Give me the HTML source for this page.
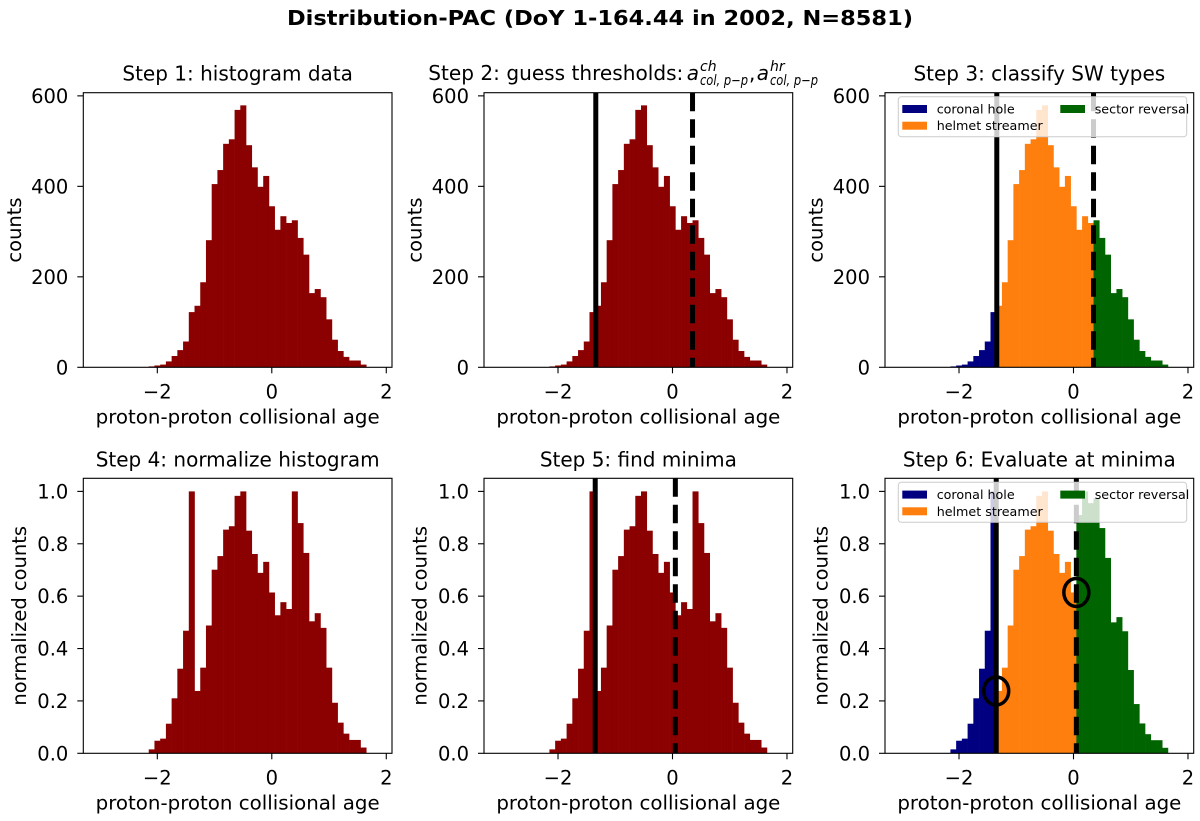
<!DOCTYPE html>
<html><head><meta charset="utf-8"><style>
html,body{margin:0;padding:0;background:#fff}
svg{display:block}
text{font-family:"DejaVu Sans","Liberation Sans",sans-serif;fill:#000}
</style></head><body>
<svg id="fig" width="1200" height="821" viewBox="0 0 1200 821" xmlns="http://www.w3.org/2000/svg">
<text x="600" y="25" text-anchor="middle" font-size="20" font-weight="bold" textLength="626" lengthAdjust="spacingAndGlyphs">Distribution-PAC (DoY 1-164.44 in 2002, N=8581)</text>
<g id="panels"></g>
</svg>
<script>
// ---- data ----
const binStart = -2.15;
const binWidth = 0.1;
const counts = [2,4,6,13,25,38,57,122,136,188,281,405,436,494,504,569,579,491,442,399,423,356,304,334,319,325,286,249,164,173,155,106,61,36,23,15,15,6];
const norm4 = [0.015,0.048,0.056,0.113,0.21,0.323,0.468,1.0,0.238,0.327,0.488,0.701,0.753,0.854,0.867,0.983,1.0,0.85,0.761,0.689,0.731,0.614,0.527,0.577,0.551,1.0,0.879,0.765,0.504,0.535,0.479,0.327,0.193,0.117,0.075,0.051,0.051,0.022];
const norm6 = [0.015,0.048,0.056,0.113,0.21,0.323,0.468,1.0,0.238,0.327,0.488,0.701,0.753,0.854,0.867,0.983,1.0,0.85,0.761,0.689,0.731,0.614,0.91,1.0,0.955,0.973,0.86,0.746,0.50,0.52,0.466,0.318,0.188,0.114,0.073,0.05,0.05,0.021];
const thr2 = [-1.34, 0.35];
const thr5 = [-1.35, 0.05];
const minima6 = [[-1.35, 0.238],[0.05, 0.614]];
const countTicks = [0,200,400,600];
const countTickLabels = ["0","200","400","600"];
const normTicks = [0,0.2,0.4,0.6,0.8,1.0];
const normTickLabels = ["0.0","0.2","0.4","0.6","0.8","1.0"];
const xTicks = [-2,0,2];
const xTickLabels = ["\u22122","0","2"];
const xlim = [-3.293, 2.1];
const countMax = 607;
const normMax = 1.05;

const NS = "http://www.w3.org/2000/svg";
const root = document.getElementById('panels');
function mk(tag, attrs, parent){
  const e = document.createElementNS(NS, tag);
  for (const k in attrs) e.setAttribute(k, attrs[k]);
  (parent||root).appendChild(e);
  return e;
}
const colLeft = [83.3, 484, 885];
const axW = 308.7;
const rowTop = [92.7, 478.3];
const rowBot = [367.3, 753.3];
const C = {red:'#8b0000', blue:'#000080', orange:'#ff7f0e', green:'#006400'};
const FS = 19.5;

function panel(col,row,opts){
  const L = colLeft[col], R = L+axW, T = rowTop[row], B = rowBot[row];
  const g = mk('g',{});
  
  
  const xs = v => L + (v - xlim[0])/(xlim[1]-xlim[0])*axW;
  const ymax = opts.norm ? normMax : countMax;
  const ys = v => B - v/ymax*(B-T);
  const vals = opts.values;
  for (let i=0;i<vals.length;i++){
    const x0 = xs(binStart + i*binWidth), x1 = xs(binStart + (i+1)*binWidth);
    const r = mk('rect',{x:x0, y:ys(vals[i]), width:x1-x0+0.3, height:B-ys(vals[i]), fill:opts.color(i)}, g);
    
    
  }
  if (opts.thr){
    const l1 = mk('line',{x1:xs(opts.thr[0]),x2:xs(opts.thr[0]),y1:T,y2:B,stroke:'#000','stroke-width':5}, g);
    
    
    const l2 = mk('line',{x1:xs(opts.thr[1]),x2:xs(opts.thr[1]),y1:T,y2:B,stroke:'#000','stroke-width':5,'stroke-dasharray':'18.5 8'}, g);
    
    
  }
  if (opts.legend){
    const lg = mk('g',{}, g);
    
    
    mk('rect',{x:L+13.3, y:T+4, width:288.4, height:40, rx:3, fill:'#fff','fill-opacity':0.8, stroke:'#ccc','stroke-width':1}, lg);
    const items = [['coronal hole',C.blue,0,0],['helmet streamer',C.orange,0,1],['sector reversal',C.green,1,0]];
    for (const it of items){
      const px = L + 17.3 + it[2]*158, py = T + 12.3 + it[3]*16.7;
      const e = mk('g',{}, lg);
      
      
      mk('rect',{x:px, y:py, width:24.7, height:8, fill:it[1]}, e);
      const t = mk('text',{x:px+34.4, y:py+8.5, 'font-size':12.7}, e);
      t.textContent = it[0];
    }
  }
  if (opts.circles){
    for (const m of opts.circles){
      const c = mk('ellipse',{cx:xs(m[0]), cy:ys(m[1]), rx:12.5, ry:14, fill:'none', stroke:'#000','stroke-width':3.5}, g);
      
      
    }
  }
  const sp = mk('rect',{x:L, y:T, width:axW, height:B-T, fill:'none', stroke:'#000','stroke-width':1.1}, g);
  
  
  for (let i=0;i<xTicks.length;i++){
    const x = xs(xTicks[i]);
    mk('line',{x1:x,x2:x,y1:B,y2:B+6,stroke:'#000','stroke-width':1.1}, g);
    const t = mk('text',{x:x, y:B+31, 'font-size':FS, 'text-anchor':'middle'}, g);
    
    
    t.textContent = xTickLabels[i];
  }
  const yt = opts.norm ? normTicks : countTicks;
  const ytl = opts.norm ? normTickLabels : countTickLabels;
  for (let i=0;i<yt.length;i++){
    const y = ys(yt[i]);
    mk('line',{x1:L-6,x2:L,y1:y,y2:y,stroke:'#000','stroke-width':1.1}, g);
    const t = mk('text',{x:L-15, y:y+7, 'font-size':FS, 'text-anchor':'end'}, g);
    
    
    t.textContent = ytl[i];
  }
  const xl = mk('text',{x:L+axW/2, y:B+56, 'font-size':FS, 'text-anchor':'middle', textLength:284, lengthAdjust:'spacingAndGlyphs'}, g);
  
  
  xl.textContent = 'proton-proton collisional age';
  const yx = opts.norm ? L-63 : L-68, yy = (T+B)/2;
  const yl = mk('text',{x:yx, y:yy, 'font-size':FS, 'text-anchor':'middle', transform:`rotate(-90 ${yx} ${yy})`, 'dominant-baseline':'middle'}, g);
  
  
  yl.textContent = opts.norm ? 'normalized counts' : 'counts';
  if (opts.title){
    const tt = mk('text',{x:L+axW/2, y:T-12, 'font-size':20, 'text-anchor':'middle'}, g);
    
    
    tt.textContent = opts.title;
  } else if (opts.mathTitle){
    const tg = mk('g',{}, g);
    
    
    const by = T-12.7;
    const parts = [
      ['Step 2: guess thresholds: ',428.3,by,20,'normal',255],
      ['a',686.7,by,20,'italic',null],
      ['ch',700,by-9,14,'italic',null],
      ['col, p\u2212p',700,by+5,14,'italic',48],
      [',',749,by,20,'normal',null],
      ['a',756.7,by,20,'italic',null],
      ['hr',770,by-9,14,'italic',null],
      ['col, p\u2212p',770,by+5,14,'italic',48]
    ];
    for (const p of parts){
      const a = {x:p[1], y:p[2], 'font-size':p[3], 'font-style':p[4]};
      if (p[5]) { a.textLength = p[5]; a.lengthAdjust='spacingAndGlyphs'; }
      const t = mk('text', a, tg);
      t.textContent = p[0];
    }
  }
}
const red = () => C.red;
panel(0,0,{name:'panel-step1-histogram', values:counts, color:red, title:'Step 1: histogram data'});
panel(1,0,{name:'panel-step2-thresholds', values:counts, color:red, thr:thr2, mathTitle:true});
panel(2,0,{name:'panel-step3-classify', values:counts, thr:thr2, legend:true, title:'Step 3: classify SW types',
  color:i => { const c = binStart+(i+0.5)*binWidth; return c < thr2[0] ? C.blue : (c < thr2[1] ? C.orange : C.green); }});
panel(0,1,{name:'panel-step4-normalize', values:norm4, color:red, norm:true, title:'Step 4: normalize histogram'});
panel(1,1,{name:'panel-step5-minima', values:norm4, color:red, norm:true, thr:thr5, title:'Step 5: find minima'});
panel(2,1,{name:'panel-step6-evaluate', values:norm6, norm:true, thr:thr5, legend:true, circles:minima6, title:'Step 6: Evaluate at minima',
  color:i => { const c = binStart+(i+0.5)*binWidth; return c < thr5[0] ? C.blue : (c < thr5[1] ? C.orange : C.green); }});
</script>
</body></html>
